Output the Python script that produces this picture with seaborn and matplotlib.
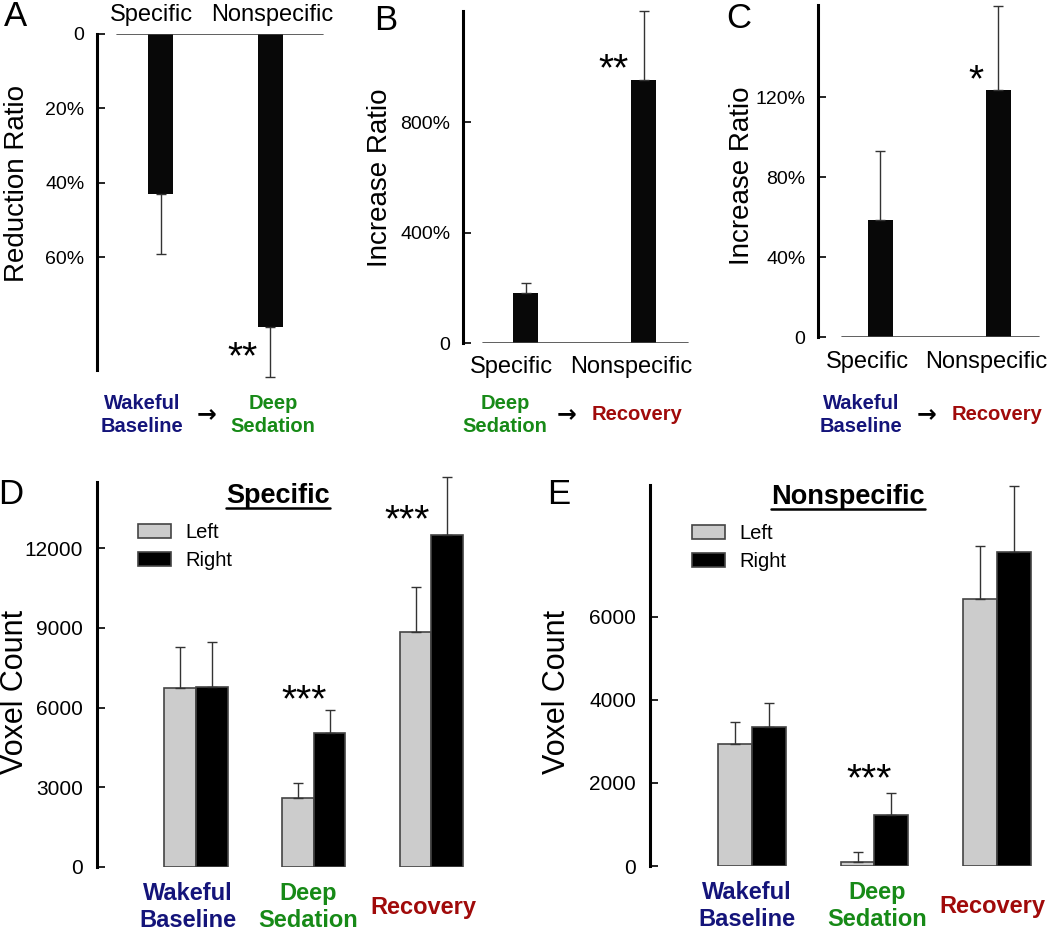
import pandas as pd
import matplotlib
matplotlib.use("Agg")
import matplotlib.pyplot as plt
import seaborn as sns

# --- data ---
site_cats = ["Specific", "Nonspecific"]

# A: reduction ratio (%), wakeful baseline -> deep sedation
red_vals = [43.1, 78.9]
red_err = [59.2, 92.3]          # top of error bar

# B: increase ratio (%), deep sedation -> recovery
inc_b_vals = [181, 952]
inc_b_err = [217, 1202]

# C: increase ratio (%), wakeful baseline -> recovery
inc_c_vals = [58.5, 123.5]
inc_c_err = [93, 165.5]

states = ["Wakeful\nBaseline", "Deep\nSedation", "Recovery"]
sides = ["Left", "Right"]

# D: specific voxel counts
spec_left = [6737, 2597, 8845]
spec_left_err = [8280, 3160, 10540]
spec_right = [6775, 5043, 12500]
spec_right_err = [8470, 5910, 14680]

# E: nonspecific voxel counts
nons_left = [2940, 100, 6430]
nons_left_err = [3470, 340, 7720]
nons_right = [3350, 1230, 7570]
nons_right_err = [3930, 1760, 9160]

NAVY = "#14147a"
GREEN = "#178a17"
RED = "#a00a0a"
state_colors = [NAVY, GREEN, RED]

sns.set_style("white")
plt.rcParams["font.family"] = ["Liberation Sans", "DejaVu Sans"]
plt.rcParams.update({"text.color": "black", "axes.labelcolor": "black",
                     "xtick.color": "black", "ytick.color": "black"})

W, H = 1050, 932
fig = plt.figure(figsize=(W / 100, H / 100), dpi=100)


def px_axes(left, top, right, bottom):
    return fig.add_axes([left / W, 1 - bottom / H, (right - left) / W, (bottom - top) / H])


def fx(x):
    return x / W


def fy(y):
    return 1 - y / H


def style_axis(ax, lw=2.2):
    for s in ["top", "right", "bottom"]:
        ax.spines[s].set_visible(False)
    ax.spines["left"].set_linewidth(lw)
    ax.spines["left"].set_color("black")
    ax.tick_params(axis="y", left=True, direction="in", length=6, width=1.2,
                   labelsize=14, pad=9)
    ax.tick_params(axis="x", length=0, labelsize=17)
    ax.set_xlabel("")


def errbars(ax, xs, vals, tops):
    ax.errorbar(xs, vals, yerr=[[0] * len(vals), [t - v for t, v in zip(tops, vals)]],
                fmt="none", ecolor="#333333", elinewidth=1, capsize=3.3, capthick=1,
                clip_on=False, zorder=3)


STAR = dict(fontsize=28, ha="center", va="center")

# ---------- panel A ----------
axA = px_axes(97, 34, 325, 370)
dfA = pd.DataFrame({"site": site_cats, "val": red_vals})
sns.barplot(data=dfA, x="site", y="val", color="#080808", width=0.23, ax=axA,
            saturation=1, edgecolor="none")
errbars(axA, [0, 1], red_vals, red_err)
axA.set_xlim(-0.58, 1.5)
axA.set_ylim(90.4, 0)
axA.axhline(0, xmin=0.087, xmax=0.99, color="#444444", lw=1.2)
style_axis(axA)
axA.set_yticks([0, 20, 40, 60])
axA.set_yticklabels(["0", "20%", "40%", "60%"])
axA.xaxis.tick_top()
axA.set_xticks([-0.08, 1.02])
axA.set_xticklabels(site_cats)
axA.tick_params(axis="x", pad=14, labelsize=17, length=0)
for t in axA.get_xticklabels():
    t.set_va("center")
axA.set_ylabel("Reduction Ratio", fontsize=20, va="center")
axA.yaxis.set_label_coords((17.5 - 97) / 228, 0.555)
axA.text(0.744, 87.3, "**", **STAR)

# ---------- panel B ----------
axB = px_axes(463, 11, 690, 343)
dfB = pd.DataFrame({"site": site_cats, "val": inc_b_vals})
sns.barplot(data=dfB, x="site", y="val", color="#080808", width=0.21, ax=axB,
            saturation=1, edgecolor="none")
errbars(axB, [0, 1], inc_b_vals, inc_b_err)
axB.set_xlim(-0.53, 1.39)
axB.set_ylim(0, 1202)
axB.axhline(0, xmin=0.09, xmax=0.99, color="#444444", lw=1.2)
style_axis(axB)
axB.set_yticks([0, 400, 800])
axB.set_yticklabels(["0", "400%", "800%"])
axB.set_xticks([-0.12, 0.89])
axB.set_xticklabels(site_cats)
axB.tick_params(axis="x", pad=17)
for t in axB.get_xticklabels():
    t.set_va("center")
axB.set_ylabel("Increase Ratio", fontsize=20, va="center")
axB.yaxis.set_label_coords((380 - 463) / 227, 0.498)
axB.text(0.742, 986, "**", **STAR)

# ---------- panel C ----------
axC = px_axes(818, 5, 1042, 337)
dfC = pd.DataFrame({"site": site_cats, "val": inc_c_vals})
sns.barplot(data=dfC, x="site", y="val", color="#080808", width=0.21, ax=axC,
            saturation=1, edgecolor="none")
errbars(axC, [0, 1], inc_c_vals, inc_c_err)
axC.set_xlim(-0.53, 1.37)
axC.set_ylim(0, 166)
axC.axhline(0, xmin=0.105, xmax=0.985, color="#444444", lw=1.2)
style_axis(axC)
axC.set_yticks([0, 40, 80, 120])
axC.set_yticklabels(["0", "40%", "80%", "120%"])
axC.set_xticks([-0.11, 0.9])
axC.set_xticklabels(site_cats)
axC.tick_params(axis="x", pad=18)
for t in axC.get_xticklabels():
    t.set_va("center")
axC.set_ylabel("Increase Ratio", fontsize=20, va="center")
axC.yaxis.set_label_coords((742 - 818) / 224, 0.485)
axC.text(0.81, 128, "*", **STAR)

# transition labels under A-C
lab_kw = dict(fontsize=14.5, fontweight="bold", ha="center", va="center", linespacing=1.25)
arr_kw = dict(fontsize=17, fontweight="bold", family="DejaVu Sans", ha="center", va="center")
fig.text(fx(142), fy(415), "Wakeful\nBaseline", color=NAVY, **lab_kw)
fig.text(fx(207), fy(414), "\u2192", **arr_kw)
fig.text(fx(273), fy(415), "Deep\nSedation", color=GREEN, **lab_kw)

fig.text(fx(505), fy(415), "Deep\nSedation", color=GREEN, **lab_kw)
fig.text(fx(567), fy(414), "\u2192", **arr_kw)
fig.text(fx(637), fy(415), "Recovery", color=RED, **lab_kw)

fig.text(fx(861), fy(415), "Wakeful\nBaseline", color=NAVY, **lab_kw)
fig.text(fx(927), fy(414), "\u2192", **arr_kw)
fig.text(fx(997), fy(415), "Recovery", color=RED, **lab_kw)


# ---------- panels D / E ----------
def voxel_panel(ax, left, left_err, right, right_err, width, xlim, ylim, yticks, tick_pos):
    df = pd.DataFrame({
        "state": states * 2,
        "side": [sides[0]] * 3 + [sides[1]] * 3,
        "val": left + right,
    })
    sns.barplot(data=df, x="state", y="val", hue="side", palette=["#cccccc", "#000000"],
                width=width, ax=ax, saturation=1, edgecolor="#444444", linewidth=1.2)
    off = width / 4
    errbars(ax, [i - off for i in range(3)], left, left_err)
    errbars(ax, [i + off for i in range(3)], right, right_err)
    ax.set_xlim(*xlim)
    ax.set_ylim(*ylim)
    style_axis(ax)
    ax.set_yticks(yticks)
    ax.set_yticklabels([str(v) for v in yticks])
    ax.set_xticks(tick_pos)
    ax.set_xticklabels(states)
    ax.tick_params(axis="y", labelsize=15, pad=10)
    ax.tick_params(axis="x", pad=29)
    for t, c in zip(ax.get_xticklabels(), state_colors):
        t.set_va("center")
        t.set_color(c)
        t.set_fontweight("bold")
        t.set_fontsize(17)
        t.set_linespacing(1.2)
    ax.set_ylabel("Voxel Count", fontsize=22, va="center")
    return ax


leg_kw = dict(frameon=False, title=None, fontsize=14.5, handlelength=1.65,
              handleheight=0.65, labelspacing=0.45, handletextpad=0.7,
              borderaxespad=0, borderpad=0)

axD = px_axes(97, 482, 475, 867)
voxel_panel(axD, spec_left, spec_left_err, spec_right, spec_right_err, 0.54,
            (-0.84, 2.37), (0, 14490), [0, 3000, 6000, 9000, 12000],
            [-0.068, 0.95, 1.932])
axD.yaxis.set_label_coords((15 - 97) / 378, 0.455)
sns.move_legend(axD, "upper left", bbox_to_anchor=((138 - 97) / 378, (867 - 523) / 385), **leg_kw)
axD.text(0.915, 6230, "***", **STAR)
axD.text(1.796, 13000, "***", **STAR)

axE = px_axes(650, 485, 1040, 866)
voxel_panel(axE, nons_left, nons_left_err, nons_right, nons_right_err, 0.55,
            (-0.83, 2.35), (0, 9180), [0, 2000, 4000, 6000],
            [-0.04, 1.02, 1.96])
axE.yaxis.set_label_coords((557 - 650) / 390, 0.457)
sns.move_legend(axE, "upper left", bbox_to_anchor=((692 - 650) / 390, (866 - 524) / 381), **leg_kw)
axE.text(0.96, 2060, "***", **STAR)

# underlined panel titles
titles = [("Specific", 278, 503, 508), ("Nonspecific", 848, 504, 509)]
fig.canvas.draw()
renderer = fig.canvas.get_renderer()
for txt, x, yb, yu in titles:
    t = fig.text(fx(x), fy(yb), txt, fontsize=19.5, fontweight="bold", ha="center", va="baseline")
    bb = t.get_window_extent(renderer=renderer)
    fig.add_artist(plt.Line2D([bb.x0 / W, bb.x1 / W], [fy(yu), fy(yu)], color="black", lw=1.8))

# panel letters
for letter, x, y in [("A", 15, 17), ("B", 386, 20), ("C", 739, 19), ("D", 11, 495), ("E", 559, 495)]:
    fig.text(fx(x), fy(y), letter, fontsize=25, ha="center", va="center")

fig.savefig("out.png", dpi=100)
